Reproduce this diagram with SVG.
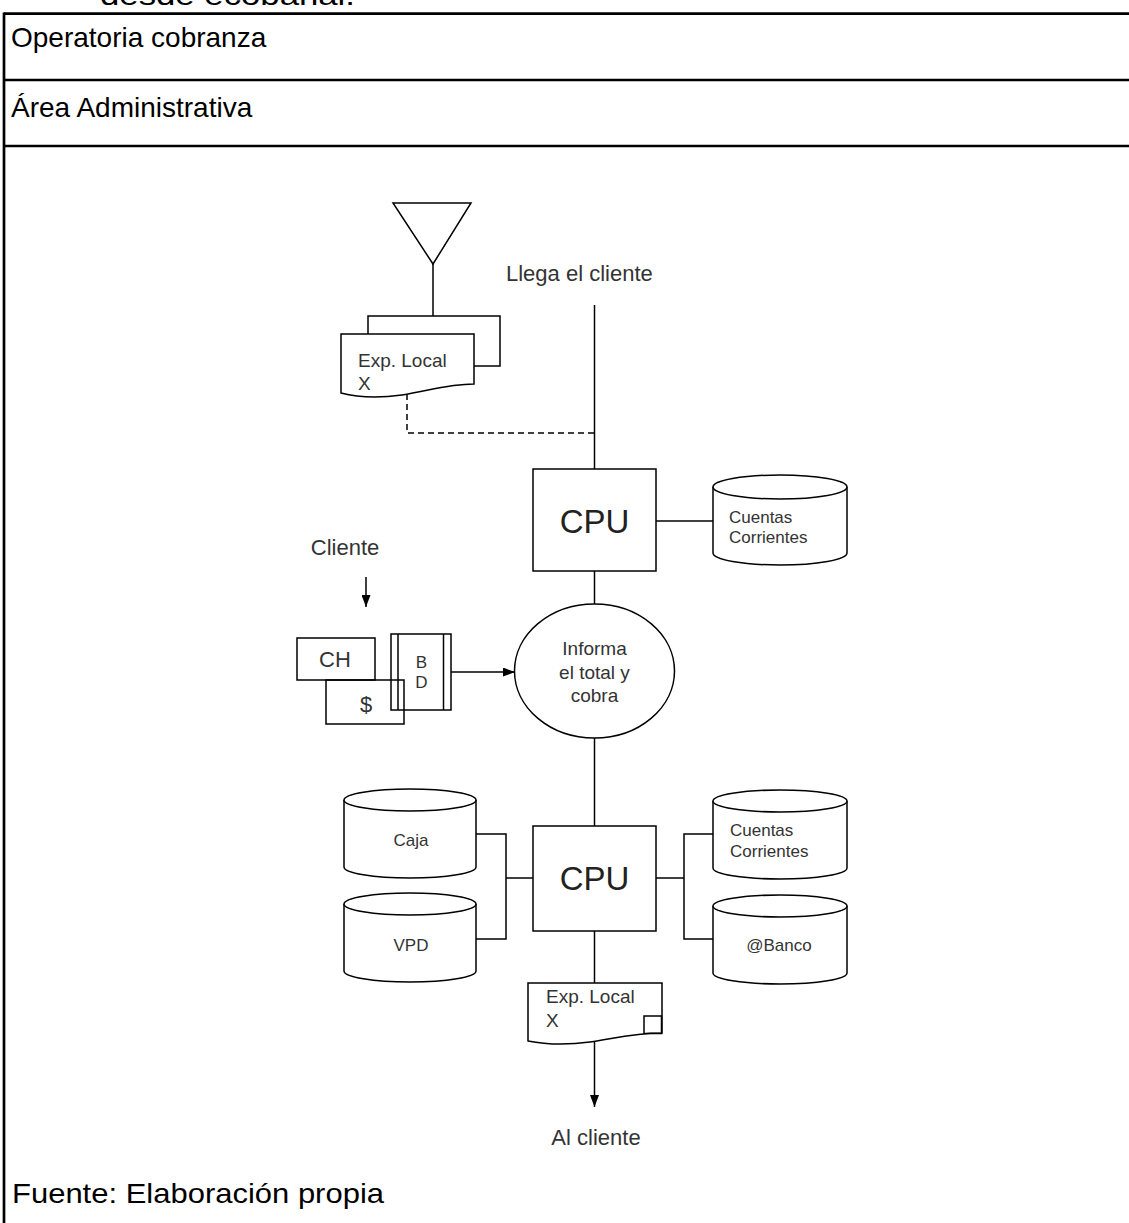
<svg xmlns="http://www.w3.org/2000/svg" width="1129" height="1223" viewBox="0 0 1129 1223">
<style>
.tbl{stroke:#000;stroke-width:2.7;fill:none}
.hd{font-family:"Liberation Sans",Arial,sans-serif;font-size:28px;fill:#000}
.ln{stroke:#000;stroke-width:1.5;fill:none}
.sh{stroke:#000;stroke-width:1.5;fill:#fff}
.sn{stroke:#000;stroke-width:1.5;fill:none}
.t{font-family:"Liberation Sans",Arial,sans-serif;fill:#333}
.s16{font-size:17px}
.s17{font-size:17px}
.s18{font-size:19px}
.s21{font-size:22px}
.cpu{font-family:"Liberation Sans",Arial,sans-serif;font-size:33px;fill:#222}
.mid{text-anchor:middle}
</style>
<defs>
<marker id="arr" markerUnits="userSpaceOnUse" markerWidth="12" markerHeight="9" refX="12" refY="4.5" orient="auto">
<path d="M0,0 L12,4.5 L0,9 Z" fill="#000"/>
</marker>
</defs>
<rect width="1129" height="1223" fill="#fff"/>
<g id="table">
<text class="hd" x="100" y="5" textLength="255" lengthAdjust="spacingAndGlyphs">desde ecobanal.</text>
<line class="tbl" x1="4" y1="13.7" x2="1129" y2="13.7"/>
<line class="tbl" x1="4" y1="80" x2="1129" y2="80"/>
<line class="tbl" x1="4" y1="146" x2="1129" y2="146"/>
<line class="tbl" x1="4" y1="12.4" x2="4" y2="1223"/>
<text class="hd" x="11" y="47">Operatoria cobranza</text>
<text class="hd" x="11" y="117">Área Administrativa</text>
<text class="hd" x="12" y="1203" textLength="372" lengthAdjust="spacingAndGlyphs">Fuente: Elaboración propia</text>
</g>
<g id="connectors">
<line class="ln" x1="433" y1="264" x2="433" y2="316"/>
<line class="ln" x1="594.5" y1="305" x2="594.5" y2="469"/>
<polyline class="ln" points="407,394 407,433 594.5,433" stroke-dasharray="6,4"/>
<line class="ln" x1="656" y1="521" x2="713" y2="521"/>
<line class="ln" x1="594.5" y1="571" x2="594.5" y2="604"/>
<line class="ln" x1="594.5" y1="738" x2="594.5" y2="826"/>
<line class="ln" x1="366" y1="577" x2="366" y2="607" marker-end="url(#arr)"/>
<line class="ln" x1="451" y1="672" x2="515" y2="672" marker-end="url(#arr)"/>
<polyline class="ln" points="476,834 506,834 506,939 476,939"/>
<line class="ln" x1="506" y1="878" x2="533" y2="878"/>
<polyline class="ln" points="713,834 684,834 684,939 713,939"/>
<line class="ln" x1="656" y1="878" x2="684" y2="878"/>
<line class="ln" x1="594.5" y1="931" x2="594.5" y2="983"/>
<line class="ln" x1="594.5" y1="1042" x2="594.5" y2="1107" marker-end="url(#arr)"/>
</g>
<g id="n-triangle">
<polygon class="sh" points="393,203 471,203 433,264"/>
</g>
<g id="n-llega">
<text class="t s21" x="506" y="281">Llega el cliente</text>
</g>
<g id="n-explocal-top">
<rect class="sh" x="368" y="316" width="132" height="50"/>
<path class="sh" d="M341,334 H474 V384 C448,384 428,391 402,395 C380,398 360,398 341,393 Z"/>
<text class="t s18" x="358" y="367">Exp. Local</text>
<text class="t s18" x="358" y="390">X</text>
</g>
<g id="n-cpu1">
<rect class="sh" x="533" y="469" width="123" height="102"/>
<text class="cpu mid" x="594.5" y="533">CPU</text>
</g>
<g id="n-cc1">
<path class="sh" d="M713,487 V553 A67,12 0 0 0 847,553 V487"/>
<ellipse class="sh" cx="780" cy="487" rx="67" ry="12"/>
<text class="t s16" x="729" y="523">Cuentas</text>
<text class="t s16" x="729" y="543">Corrientes</text>
</g>
<g id="n-cliente">
<text class="t s21 mid" x="345" y="555">Cliente</text>
</g>
<g id="n-ch">
<rect class="sn" x="297" y="638" width="78" height="42"/>
<text class="t s21 mid" x="335" y="667">CH</text>
</g>
<g id="n-bd">
<rect class="sn" x="391" y="634" width="60" height="76"/>
<line class="ln" x1="398" y1="634" x2="398" y2="710"/>
<line class="ln" x1="443.5" y1="634" x2="443.5" y2="710"/>
<text class="t s17 mid" x="421.5" y="668">B</text>
<text class="t s17 mid" x="421.5" y="688">D</text>
</g>
<g id="n-dollar">
<rect class="sn" x="326" y="680" width="78" height="44"/>
<text class="t s21 mid" x="366" y="712">$</text>
</g>
<g id="n-informa">
<ellipse class="sh" cx="594.5" cy="671" rx="80" ry="67"/>
<text class="t s18 mid" x="594.5" y="655">Informa</text>
<text class="t s18 mid" x="594.5" y="679">el total y</text>
<text class="t s18 mid" x="594.5" y="702">cobra</text>
</g>
<g id="n-cpu2">
<rect class="sh" x="533" y="826" width="123" height="105"/>
<text class="cpu mid" x="594.5" y="890">CPU</text>
</g>
<g id="n-caja">
<path class="sh" d="M344,800 V867 A66,11 0 0 0 476,867 V800"/>
<ellipse class="sh" cx="410" cy="800" rx="66" ry="11"/>
<text class="t s16 mid" x="411" y="846">Caja</text>
</g>
<g id="n-vpd">
<path class="sh" d="M344,904 V971 A66,11 0 0 0 476,971 V904"/>
<ellipse class="sh" cx="410" cy="904" rx="66" ry="11"/>
<text class="t s16 mid" x="411" y="951">VPD</text>
</g>
<g id="n-cc2">
<path class="sh" d="M713,801 V868 A67,11 0 0 0 847,868 V801"/>
<ellipse class="sh" cx="780" cy="801" rx="67" ry="11"/>
<text class="t s16" x="730" y="836">Cuentas</text>
<text class="t s16" x="730" y="857">Corrientes</text>
</g>
<g id="n-banco">
<path class="sh" d="M713,906 V973 A67,11 0 0 0 847,973 V906"/>
<ellipse class="sh" cx="780" cy="906" rx="67" ry="11"/>
<text class="t s16 mid" x="779" y="951">@Banco</text>
</g>
<g id="n-explocal-bottom">
<path class="sh" d="M528,983 H662 V1033 C632,1033 612,1039 590,1042 C568,1045 548,1045 528,1041 Z"/>
<rect class="sn" x="644" y="1016" width="17.5" height="17.5"/>
<text class="t s18" x="546" y="1003">Exp. Local</text>
<text class="t s18" x="546" y="1027">X</text>
</g>
<g id="n-alcliente">
<text class="t s21 mid" x="596" y="1145">Al cliente</text>
</g>
</svg>
